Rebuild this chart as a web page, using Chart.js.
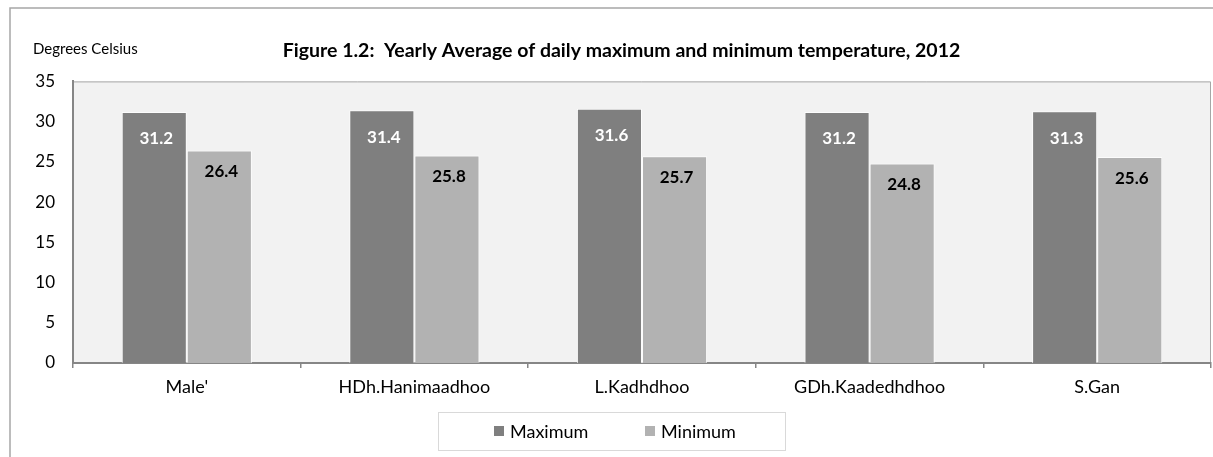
<!DOCTYPE html>
<html>
<head>
<meta charset="utf-8">
<script src="https://cdn.jsdelivr.net/npm/chart.js@4/dist/chart.umd.min.js"></script>
<style>
    html, body { margin: 0; padding: 0; background: #fff; }
    #wrap { width: 1213px; height: 457px; position: relative; }
</style>
</head>
<body>
<div id="wrap"><canvas id="tempChart" width="1213" height="457"></canvas></div>
<script>
const stations = ["Male'", "HDh.Hanimaadhoo", "L.Kadhdhoo", "GDh.Kaadedhdhoo", "S.Gan"];
const maximum = [31.2, 31.4, 31.6, 31.2, 31.3];
const minimum = [26.4, 25.8, 25.7, 24.8, 25.6];
const yTicks = [0, 5, 10, 15, 20, 25, 30, 35];

const FONT = "Lato, 'Noto Sans', sans-serif";

// outer frame, plot background, y unit label
const framePlugin = {
    id: "frame",
    beforeDraw(chart) {
        const ctx = chart.ctx;
        const a = chart.chartArea;
        ctx.save();
        ctx.strokeStyle = "#a6a6a6";
        ctx.lineWidth = 1.5;
        ctx.beginPath();
        ctx.moveTo(10, 457);
        ctx.lineTo(10, 8);
        ctx.lineTo(1213, 8);
        ctx.stroke();

        ctx.fillStyle = "#f2f2f2";
        ctx.fillRect(a.left, a.top, a.right - a.left, a.bottom - a.top);
        ctx.strokeStyle = "#a6a6a6";
        ctx.lineWidth = 1;
        ctx.beginPath();
        ctx.moveTo(a.left, a.top + 0.5);
        ctx.lineTo(a.right - 0.5, a.top + 0.5);
        ctx.lineTo(a.right - 0.5, a.bottom);
        ctx.stroke();

        ctx.fillStyle = "#000";
        ctx.font = "15px " + FONT;
        ctx.textBaseline = "middle";
        ctx.textAlign = "left";
        ctx.fillText("Degrees Celsius", 33, 49);
        ctx.restore();
    },
    afterDraw(chart) {
        // boxed legend under the axis
        const ctx = chart.ctx;
        const cy = 431;
        ctx.save();
        ctx.strokeStyle = "#d9d9d9";
        ctx.lineWidth = 1;
        ctx.strokeRect(438.5, 412.5, 347, 38);
        ctx.font = "18px " + FONT;
        ctx.textBaseline = "middle";
        ctx.textAlign = "left";
        const starts = [494, 645];
        chart.data.datasets.forEach((ds, i) => {
            const x = starts[i];
            ctx.fillStyle = ds.backgroundColor;
            ctx.fillRect(x, cy - 5, 10, 10);
            ctx.fillStyle = "#000";
            ctx.fillText(ds.label, x + 16, cy + 1);
        });
        ctx.restore();
    }
};

// value labels inside the top of each bar
const valueLabels = {
    id: "valueLabels",
    afterDatasetsDraw(chart) {
        const ctx = chart.ctx;
        ctx.save();
        ctx.font = "bold 17px " + FONT;
        ctx.textAlign = "center";
        ctx.textBaseline = "middle";
        chart.data.datasets.forEach((ds, i) => {
            const meta = chart.getDatasetMeta(i);
            meta.data.forEach((bar, j) => {
                ctx.fillStyle = i === 0 ? "#ffffff" : "#000000";
                const off = i === 0 ? 27 : 21;
                ctx.fillText(ds.data[j].toFixed(1), bar.x + 2, bar.y + off);
            });
        });
        ctx.restore();
    }
};

new Chart(document.getElementById("tempChart"), {
    type: "bar",
    data: {
        labels: stations,
        datasets: [{
            label: "Maximum",
            data: maximum,
            backgroundColor: "#7f7f7f",
            borderColor: "rgba(255,255,255,0.75)",
            borderWidth: { top: 1, left: 1, right: 1, bottom: 0 },
            categoryPercentage: 0.572,
            barPercentage: 1
        }, {
            label: "Minimum",
            data: minimum,
            backgroundColor: "#b2b2b2",
            borderColor: "rgba(255,255,255,0.75)",
            borderWidth: { top: 1, left: 1, right: 1, bottom: 0 },
            categoryPercentage: 0.572,
            barPercentage: 1
        }]
    },
    options: {
        responsive: false,
        animation: false,
        devicePixelRatio: 1,
        layout: { padding: { left: 32, right: 2, top: 0, bottom: 47 } },
        plugins: {
            title: {
                display: true,
                text: "Figure 1.2:  Yearly Average of daily maximum and minimum temperature, 2012",
                color: "#000",
                font: { family: FONT, size: 19.5, weight: "bold" },
                padding: { top: 39, bottom: 19 }
            },
            legend: { display: false },
            tooltip: { enabled: false }
        },
        scales: {
            x: {
                grid: { display: true, drawOnChartArea: false, drawTicks: true, tickLength: 5, color: "#868686", lineWidth: 1.5 },
                border: { color: "#868686", width: 2 },
                ticks: { color: "#000", font: { family: FONT, size: 18 }, padding: 8, maxRotation: 0 },
                afterFit(scale) { scale.height = 47; }
            },
            y: {
                min: 0,
                max: 35,
                afterBuildTicks(scale) { scale.ticks = yTicks.map(v => ({ value: v })); },
                grid: { display: false, drawTicks: false },
                border: { color: "#868686", width: 2 },
                ticks: { color: "#000", font: { family: FONT, size: 17 }, padding: 18 },
                afterFit(scale) { scale.width = 41; }
            }
        }
    },
    plugins: [framePlugin, valueLabels]
});
</script>
</body>
</html>
